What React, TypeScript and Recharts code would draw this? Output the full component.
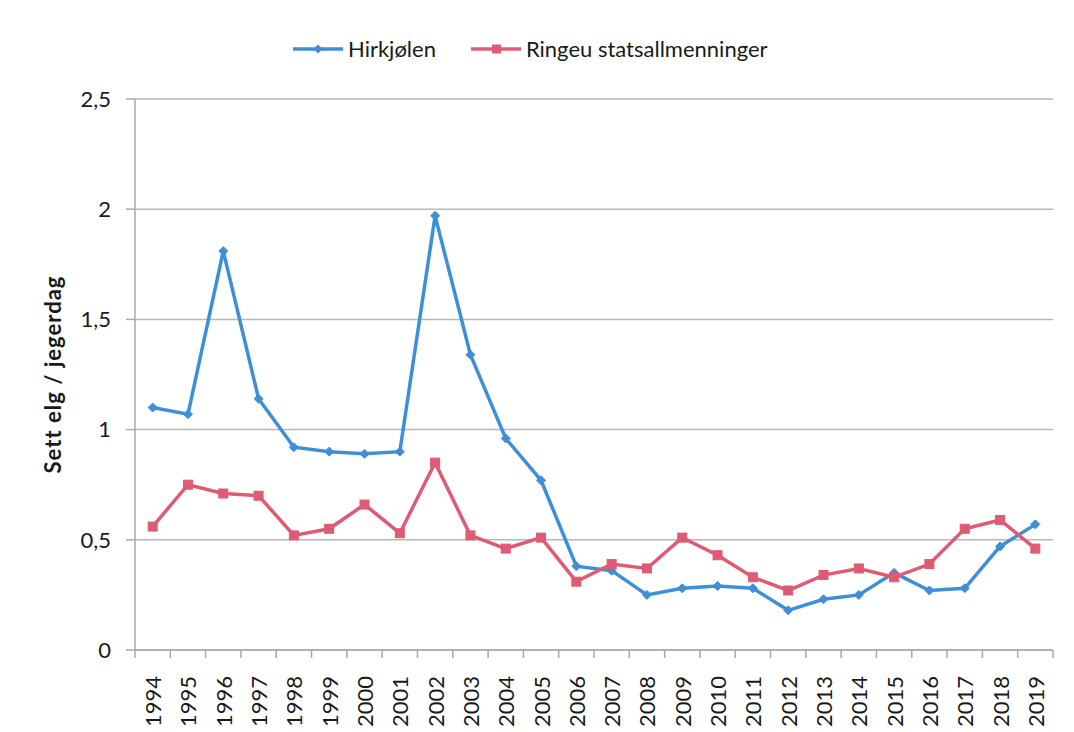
import React from "react";
import { LineChart, Line, XAxis, YAxis, CartesianGrid } from "recharts";

const years = [1994, 1995, 1996, 1997, 1998, 1999, 2000, 2001, 2002, 2003, 2004, 2005, 2006, 2007, 2008, 2009, 2010, 2011, 2012, 2013, 2014, 2015, 2016, 2017, 2018, 2019];
const hirkjolen = [1.10, 1.07, 1.81, 1.14, 0.92, 0.90, 0.89, 0.90, 1.97, 1.34, 0.96, 0.77, 0.38, 0.36, 0.25, 0.28, 0.29, 0.28, 0.18, 0.23, 0.25, 0.35, 0.27, 0.28, 0.47, 0.57];
const ringeu = [0.56, 0.75, 0.71, 0.70, 0.52, 0.55, 0.66, 0.53, 0.85, 0.52, 0.46, 0.51, 0.31, 0.39, 0.37, 0.51, 0.43, 0.33, 0.27, 0.34, 0.37, 0.33, 0.39, 0.55, 0.59, 0.46];
const yTicks = [0, 0.5, 1, 1.5, 2, 2.5];
const seriesNames = ["Hirkjølen", "Ringeu statsallmenninger"];
const yLabel = "Sett elg / jegerdag";

const BLUE = "#3f8ed8";
const RED = "#dd5c73";
const FONT = "Lato, 'Noto Sans', sans-serif";

const data = years.map((y, i) => ({ year: y, h: hirkjolen[i], r: ringeu[i] }));
const edgeTicks = [...years.map((y) => y - 0.5), years[years.length - 1] + 0.5];
const xTicks = [...edgeTicks, ...years].sort((a, b) => a - b);

const Diamond = (props: any) => {
  const { cx, cy } = props;
  if (cx == null || cy == null) return null;
  const s = 4.5;
  return <path d={`M${cx},${cy - s}L${cx + s},${cy}L${cx},${cy + s}L${cx - s},${cy}Z`} fill={BLUE} stroke={BLUE} strokeWidth={1} />;
};
const Square = (props: any) => {
  const { cx, cy } = props;
  if (cx == null || cy == null) return null;
  const s = 4.5;
  return <rect x={cx - s} y={cy - s} width={2 * s} height={2 * s} fill={RED} stroke={RED} strokeWidth={1} />;
};

const XTick = (props: any) => {
  const { x, y, payload } = props;
  const v = payload.value;
  if (!Number.isInteger(v)) {
    return <line x1={x} x2={x} y1={y - 12} y2={y - 4} stroke="#a8a8a8" strokeWidth={1.5} />;
  }
  return (
    <text x={x} y={y + 14} transform={`rotate(-90, ${x}, ${y + 14})`} textAnchor="end" dominantBaseline="central" fill="#1a1a1a" fontSize={22} fontFamily={FONT}>
      {v}
    </text>
  );
};

const fmt = (v: number) => String(v).replace(".", ",");

export default function App() {
  return (
    <div style={{ position: "absolute", left: 0, top: 0, width: 1074, height: 732, background: "#fff", fontFamily: FONT }}>
      <div style={{ position: "absolute", left: 292, top: 35, display: "flex", alignItems: "center", fontSize: 22, color: "#1a1a1a", whiteSpace: "nowrap" }}>
        <svg width={52} height={14} style={{ marginRight: 4 }}>
          <line x1={1} x2={51} y1={7} y2={7} stroke={BLUE} strokeWidth={3.5} />
          <path d="M26,2.5L30.5,7L26,11.5L21.5,7Z" fill={BLUE} />
        </svg>
        <span style={{ marginRight: 34 }}>{seriesNames[0]}</span>
        <svg width={52} height={14} style={{ marginRight: 4 }}>
          <line x1={1} x2={51} y1={7} y2={7} stroke={RED} strokeWidth={3.5} />
          <rect x={22} y={2.5} width={9} height={9} fill={RED} />
        </svg>
        <span>{seriesNames[1]}</span>
      </div>
      <div style={{ position: "absolute", left: 0, top: 0 }}>
        <LineChart width={1074} height={732} data={data} margin={{ top: 99, right: 21, left: 0, bottom: 0 }}>
          <CartesianGrid horizontal vertical={false} stroke="#b8b8b8" strokeWidth={1.5} />
          <XAxis
            dataKey="year"
            type="number"
            domain={[edgeTicks[0], edgeTicks[edgeTicks.length - 1]]}
            ticks={xTicks}
            interval={0}
            height={82}
            tickLine={false}
            tickSize={8}
            tickMargin={4}
            axisLine={{ stroke: "#a8a8a8", strokeWidth: 1.5 }}
            tick={<XTick />}
          />
          <YAxis
            width={135}
            domain={[0, 2.5]}
            ticks={yTicks}
            interval={0}
            tickFormatter={fmt}
            tickSize={9}
            tickMargin={15}
            axisLine={{ stroke: "#a8a8a8", strokeWidth: 1.5 }}
            tickLine={{ stroke: "#a8a8a8", strokeWidth: 1.5 }}
            tick={{ fill: "#1a1a1a", fontSize: 22, fontFamily: FONT }}
            label={{ value: yLabel, angle: -90, position: "insideLeft", dx: 48, style: { fontWeight: 700, fontSize: 22, letterSpacing: 1, fill: "#1a1a1a", fontFamily: FONT, textAnchor: "middle" } }}
          />
          <Line dataKey="h" name={seriesNames[0]} stroke={BLUE} strokeWidth={3.5} dot={<Diamond />} activeDot={false} isAnimationActive={false} />
          <Line dataKey="r" name={seriesNames[1]} stroke={RED} strokeWidth={3.5} dot={<Square />} activeDot={false} isAnimationActive={false} />
        </LineChart>
      </div>
    </div>
  );
}
